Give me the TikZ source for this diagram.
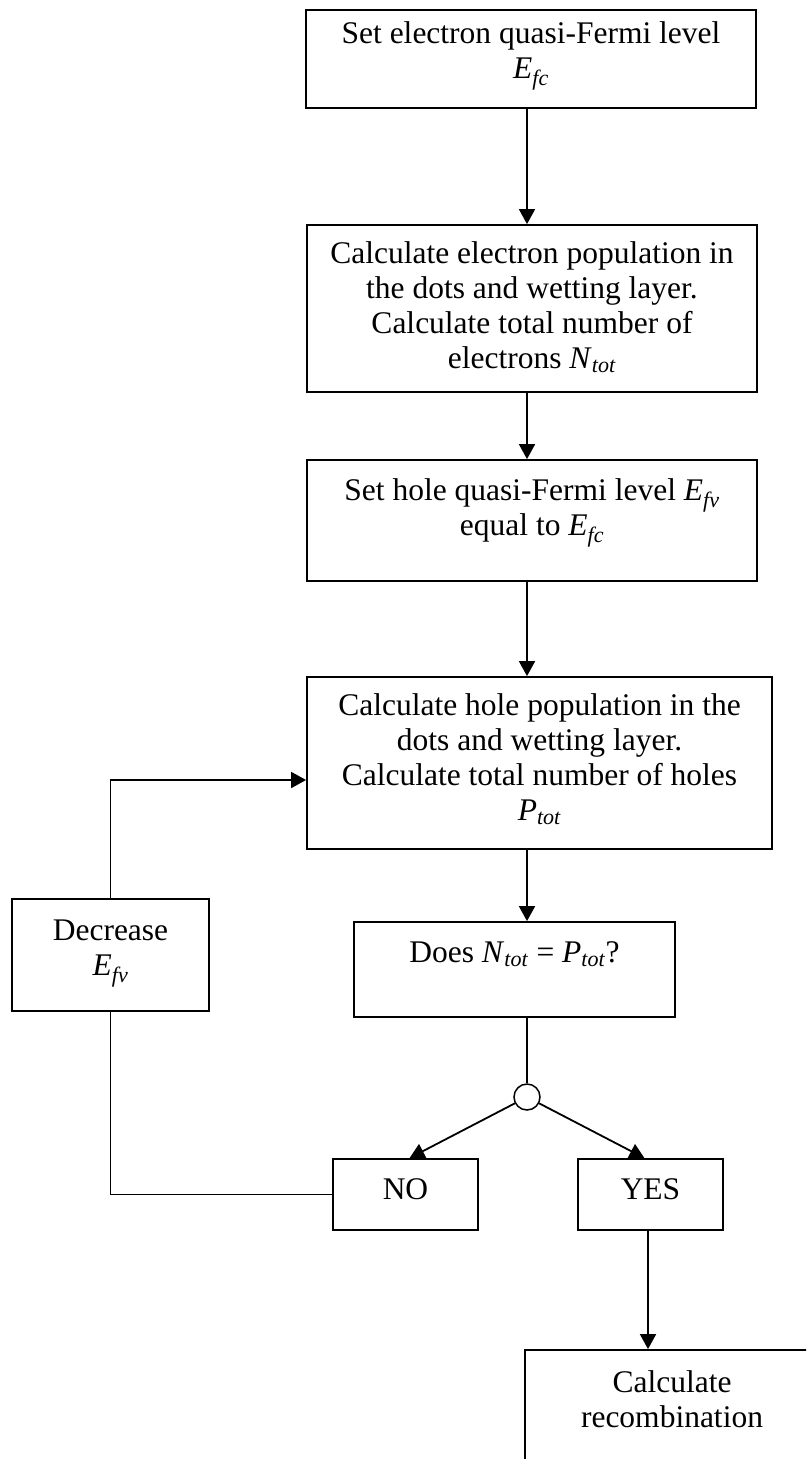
\documentclass[tikz,border=0pt]{standalone}
\usepackage{fontspec}
\setmainfont{Liberation Serif}
\usetikzlibrary{arrows.meta}

\newcommand{\qsym}[2]{\textit{#1}\textsubscript{\textit{#2}}}
\newcommand{\boxtxt}[4]{\parbox[c][#2][t]{#1}{\centering\vspace*{#3}\strut #4}}

\tikzset{
	stepbox/.style={draw, line width=1.8pt, inner sep=0pt, font=\fontsize{31.5}{35}\selectfont},
	flow/.style={line width=1.8pt, -{Triangle[length=15pt,width=16pt]}},
	plain/.style={line width=1.8pt}
}

\begin{document}
\begin{tikzpicture}[x=1pt, y=-1pt]
	\useasboundingbox (0,0) rectangle (806,1459);
	\clip (0,0) rectangle (806,1459);
	\coordinate (spine) at (527,0);

	\node[stepbox] (efc) at (531,59) {\boxtxt{450pt}{98pt}{9pt}{Set electron quasi-Fermi level\\ \qsym{E}{fc}}};
	\node[stepbox] (nele) at (532,308.5) {\boxtxt{450pt}{167pt}{14pt}{Calculate electron population in\\ the dots and wetting layer.\\ Calculate total number of\\ electrons \qsym{N}{tot}}};
	\node[stepbox] (efv) at (532,520.5) {\boxtxt{450pt}{121pt}{16pt}{Set hole quasi-Fermi level \qsym{E}{fv}\\ equal to \qsym{E}{fc}}};
	\node[stepbox] (pop) at (539.5,763) {\boxtxt{465pt}{172pt}{14pt}{Calculate hole population in the\\ dots and wetting layer.\\ Calculate total number of holes\\ \qsym{P}{tot}}};
	\node[stepbox] (check) at (514.5,969.5) {\boxtxt{321pt}{95pt}{16pt}{Does \qsym{N}{tot} = \qsym{P}{tot}?}};
	\node[circle, draw, line width=1.5pt, minimum size=26pt, inner sep=0pt] (junc) at (527,1097) {};
	\node[stepbox] (no) at (405.5,1194.5) {\boxtxt{145pt}{71pt}{16pt}{NO}};
	\node[stepbox] (yes) at (650.5,1194.5) {\boxtxt{145pt}{71pt}{16pt}{YES}};
	\node[stepbox] (dec) at (110.5,955) {\boxtxt{197pt}{112pt}{17pt}{Decrease\\ \qsym{E}{fv}}};
	\node[stepbox] (recomb) at (672,1420) {\boxtxt{294pt}{140pt}{18pt}{Calculate\\ recombination}};

	\draw[flow] (efc.south -| spine) -- (nele.north -| spine);
	\draw[flow] (nele.south -| spine) -- (efv.north -| spine);
	\draw[flow] (efv.south -| spine) -- (pop.north -| spine);
	\draw[flow] (pop.south -| spine) -- (check.north -| spine);
	\draw[plain] (check.south -| spine) -- (junc.north);
	\draw[flow] (junc) -- ([xshift=4pt]no.north);
	\draw[flow] (junc) -- ([xshift=-6pt]yes.north);
	\draw[flow] ([xshift=-2.5pt]yes.south) -- ([xshift=-2.5pt]yes.south |- recomb.north);
	\draw[plain] (no.west) -| (dec.south);
	\draw[flow] (dec.north) |- ([yshift=-17pt]pop.west);
\end{tikzpicture}
\end{document}
